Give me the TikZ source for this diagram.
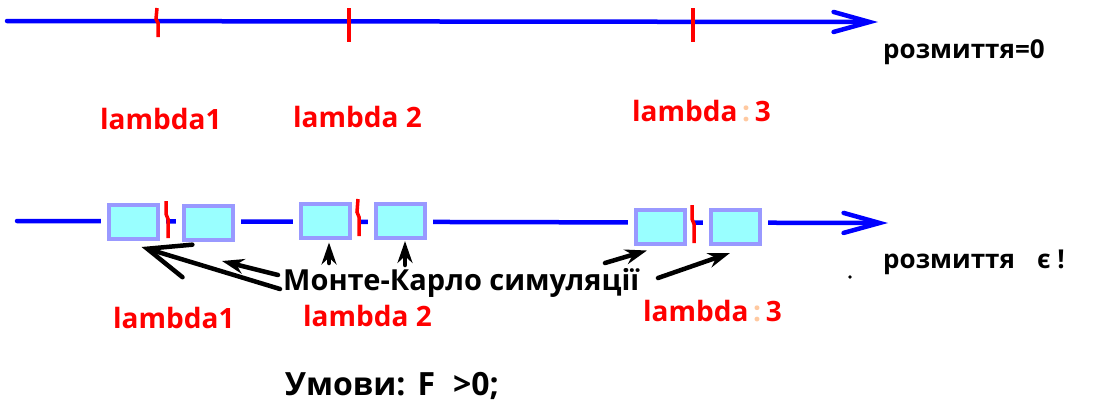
\documentclass[tikz,border=0pt]{standalone}
\usepackage{fontspec}
\setmainfont{Open Sans}
\usetikzlibrary{arrows.meta,calc}
\definecolor{axisblue}{HTML}{0000FF}
\definecolor{boxedge}{HTML}{9999FF}
\definecolor{boxfill}{HTML}{99FFFF}
\definecolor{palecolon}{HTML}{FFC9A0}
\begin{document}
\begin{tikzpicture}[x=1pt,y=-1pt,
  axis/.style={draw=axisblue,line width=4.5pt,line cap=round,
    -{Straight Barb[length=36pt,width=20pt,line cap=round]}},
  tickmark/.style={draw=red,line width=3.5pt},
  simbox/.style={draw=boxedge,fill=boxfill,line width=4pt,
    minimum width=49pt,minimum height=34pt,inner sep=0pt,
    preaction={draw=white,line width=16pt}},
  lam/.style={text=red,font=\bfseries\fontsize{28}{30}\selectfont,inner sep=0pt,anchor=base west},
  note/.style={text=black,font=\bfseries\fontsize{26}{28}\selectfont,inner sep=0pt,anchor=base west},
  caption/.style={note,font=\bfseries\fontsize{29}{31}\selectfont},
  pointer/.style={draw=black,line width=4.5pt,line cap=round,
    -{Stealth[length=22pt,width=15pt]}},
  openpointer/.style={draw=black,line width=4.5pt,line cap=round,
    -{Straight Barb[length=42pt,width=34pt,line cap=round]}}]

\fill[white] (0,0) rectangle (1100,405);
\useasboundingbox (0,0) rectangle (1100,405);

% ---- sharp case: no smearing ----
\coordinate (t0) at (7,21);
\coordinate (t1) at (878,22);
\draw[axis] (t0) -- (t1);
\draw[tickmark] (157,8) -- (156,19) -- (158,23) -- (158,37);
\draw[tickmark] (349,8) -- (349,42);
\draw[tickmark] (693,8) -- (693,42);

\node[note] (blur0) at (883,58) {розмиття=0};
\node[lam] (la1) at (100,129) {lambda1};
\node[lam] (la2) at (293,127) {lambda 2};
\node[lam] (la3) at (632,121) {lambda\,{\color{palecolon}:}\,3};

% ---- smeared case ----
\coordinate (s0) at (17,221);
\coordinate (s1) at (888,223);
\draw[axis] (s0) -- (s1);

\node[simbox] (b1) at (133.5,222) {};
\node[simbox] (b2) at (208,222.5) {};
\node[simbox] (b3) at (325.5,220.5) {};
\node[simbox] (b4) at (400,221) {};
\node[simbox] (b5) at (660.5,226.5) {};
\node[simbox] (b6) at (735.5,227) {};

\draw[tickmark] (166,201) -- (166,214) -- (168,219) -- (168,238);
\draw[tickmark] (358,199) -- (357,212) -- (359,217) -- (359,236);
\draw[tickmark] (692,205) -- (692,219) -- (694,224) -- (694,243);

\node[note] (blur1) at (883,268) {розмиття\hspace{22pt}є !};
\fill (850,277) circle (1.8);

\node[caption] (mc) at (283,290) {Монте-Карло симуляції};

\node[lam] (lb1) at (113,328) {lambda1};
\node[lam] (lb2) at (303,326) {lambda 2};
\node[lam] (lb3) at (643,321) {lambda\,{\color{palecolon}:}\,3};

\node[caption,font=\bfseries\fontsize{32}{34}\selectfont] (cond) at (285,395) {Умови:\hspace{12pt}F\hspace{18pt}>0;};

% ---- pointers from the caption to the simulation boxes ----
\coordinate (p1) at (280,289);
\coordinate (p2) at (278,275);
\coordinate (p3) at (329,263);
\coordinate (p4) at (405,265);
\coordinate (p5) at (605,263);
\coordinate (p6) at (658,278);

\draw[openpointer] (p1) -- ($(b1.south)+(8,6)$);
\draw[pointer] (p2) -- ($(b1.south east)+(62,20)$);
\draw[pointer] (p3) -- ($(b3.south)+(3.5,3)$);
\draw[pointer] (p4) -- ($(b4.south)+(5,1)$);
\draw[pointer] (p5) -- ($(b5.south)+(-13.5,5)$);
\draw[pointer] (p6) -- ($(b6.south)+(-5.5,7)$);
\end{tikzpicture}
\end{document}
